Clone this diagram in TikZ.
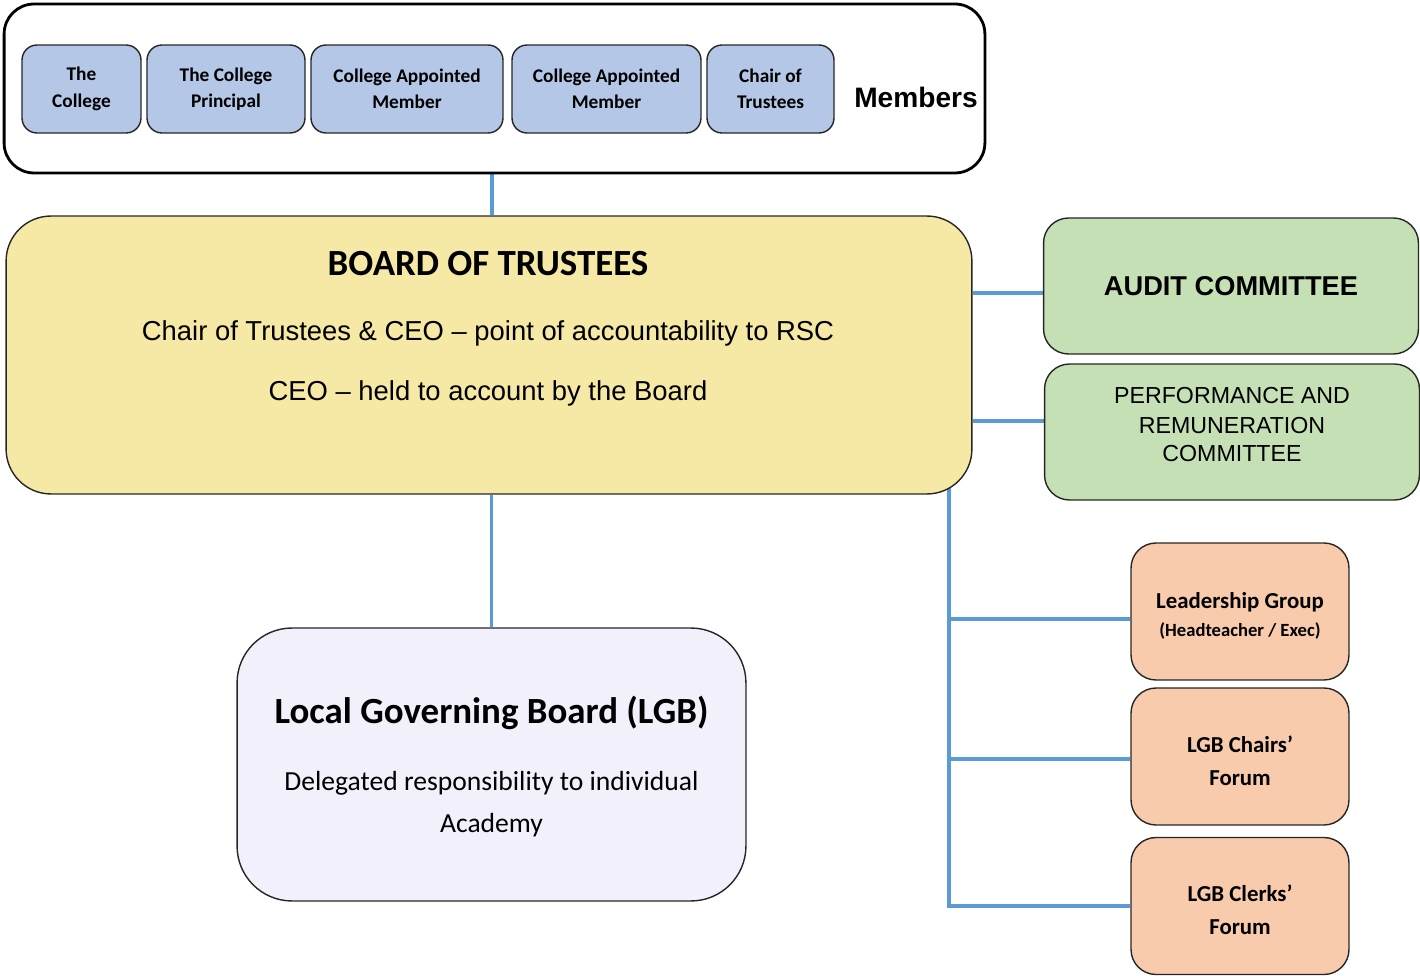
\documentclass[tikz,border=0pt]{standalone}
\usepackage{fontspec}
\setmainfont{Carlito}
\newfontfamily\arialfont{Liberation Sans}
\usetikzlibrary{backgrounds}
\definecolor{memberblue}{HTML}{B4C7E7}
\definecolor{boardyellow}{HTML}{F6E9A6}
\definecolor{committeegreen}{HTML}{C5E0B4}
\definecolor{forumorange}{HTML}{F8CBAD}
\definecolor{lgblilac}{HTML}{F2F0FB}
\definecolor{linkblue}{HTML}{5B9BD5}

\begin{document}
\begin{tikzpicture}[x=0.02cm,y=-0.02cm,
  memberbox/.style={draw=black!85,line width=0.8pt,fill=memberblue,rounded corners=0.3cm,
    minimum height=1.76cm,align=center,font=\fontsize{11}{15}\selectfont\bfseries},
  committee/.style={draw=black!85,line width=0.8pt,fill=committeegreen,rounded corners=0.5cm,
    minimum width=7.5cm,minimum height=2.72cm,align=center},
  forum/.style={draw=black!85,line width=0.8pt,fill=forumorange,rounded corners=0.5cm,
    minimum width=4.36cm,minimum height=2.74cm,align=center,font=\fontsize{13}{19}\selectfont\bfseries},
  link/.style={draw=linkblue,line width=1.9pt}]
\useasboundingbox (0,0) rectangle (1420,976);
\node[draw=black,line width=1.6pt,rounded corners=0.6cm,minimum width=19.62cm,minimum height=3.38cm] (members) at (494.5,88.5) {};
\node[memberbox,minimum width=2.38cm] (college) at (81.5,89) {The\\College};
\node[memberbox,minimum width=3.16cm] (principal) at (226,89) {The College\\Principal};
\node[memberbox,minimum width=3.84cm] (appointed1) at (407,89) {College Appointed\\Member};
\node[memberbox,minimum width=3.78cm] (appointed2) at (606.5,89) {College Appointed\\Member};
\node[memberbox,minimum width=2.54cm] (chair) at (770.5,89) {Chair of\\Trustees};
\node[font=\arialfont\fontsize{16}{18}\selectfont\bfseries] (memberslabel) at (916,97) {Members};
\node[draw=black!85,line width=0.8pt,fill=boardyellow,rounded corners=0.9cm,minimum width=19.32cm,minimum height=5.56cm] (board) at (489,355) {};
\node[font=\fontsize{21}{24}\selectfont\bfseries] (boardtitle) at (488,264) {BOARD OF TRUSTEES};
\node[font=\arialfont\fontsize{15.6}{18}\selectfont] (boardline1) at (488,333) {Chair of Trustees \& CEO – point of accountability to RSC};
\node[font=\arialfont\fontsize{15.6}{18}\selectfont] (boardline2) at (488,393) {CEO – held to account by the Board};
\node[committee,font=\arialfont\fontsize{15.5}{18}\selectfont\bfseries] (audit) at (1231,286) {AUDIT COMMITTEE};
\node[committee,font=\arialfont\fontsize{13.2}{17}\selectfont] (performance) at (1232,432) {PERFORMANCE AND\\REMUNERATION\\[-1pt]COMMITTEE\rule[-9pt]{0pt}{0pt}};
\node[forum] (leadership) at (1240,611.5) {\rule{0pt}{14pt}Leadership Group\\[-3pt]{\fontsize{10.6}{12}\selectfont(Headteacher / Exec)}};
\node[forum] (chairsforum) at (1240,756.5) {\rule{0pt}{14pt}LGB Chairs’\\Forum};
\node[forum] (clerksforum) at (1240,906) {\rule{0pt}{14pt}LGB Clerks’\\Forum};
\node[draw=black!85,line width=0.8pt,fill=lgblilac,rounded corners=1.1cm,minimum width=10.18cm,minimum height=5.46cm] (lgb) at (491.5,764.5) {};
\node[font=\fontsize{21}{24}\selectfont\bfseries] (lgbtitle) at (491.5,713) {Local Governing Board (LGB)};
\node[align=center,font=\fontsize{15.7}{24}\selectfont] (lgbtext) at (491.5,804) {Delegated responsibility to individual\\Academy};
\coordinate (stem) at (492,0);
\coordinate (trunk) at (949,470);
\begin{scope}[on background layer]
\draw[link] (members.south -| stem) -- (board.north -| stem);
\draw[link] (board.south -| lgb.north) -- (lgb.north);
\draw[link] ([yshift=-0.14cm]audit.west) -- ([yshift=-0.14cm]audit.west -| board.east);
\draw[link] ([yshift=0.22cm]performance.west) -- ([yshift=0.22cm]performance.west -| board.east);
\draw[link] (trunk) -- (trunk |- clerksforum.west) -- (clerksforum.west);
\draw[link] ([yshift=-0.15cm]leadership.west) -- ([yshift=-0.15cm]leadership.west -| trunk);
\draw[link] ([yshift=-0.05cm]chairsforum.west) -- ([yshift=-0.05cm]chairsforum.west -| trunk);
\end{scope}
\end{tikzpicture}
\end{document}
